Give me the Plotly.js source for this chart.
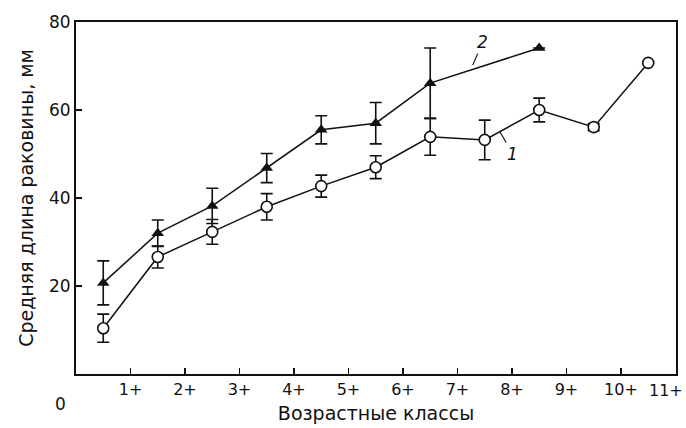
<!DOCTYPE html>
<html><head><meta charset="utf-8">
<script src="https://cdn.plot.ly/plotly-3.0.1.min.js"></script>
<style>html,body{margin:0;padding:0;background:#fff}#chart{width:686px;height:428px}</style>
</head><body><div id="chart"></div>
<script>
// Series 1 (open circles)
const x1 = [0.5, 1.5, 2.5, 3.5, 4.5, 5.5, 6.5, 7.5, 8.5, 9.5, 10.5];
const y1 = [10.4, 26.6, 32.3, 38.0, 42.7, 47.0, 53.9, 53.2, 60.0, 56.1, 70.7];
const e1 = [3.2, 2.5, 2.8, 3.0, 2.5, 2.6, 4.2, 4.5, 2.7, 0.8, 0];
// Series 2 (filled triangles)
const x2 = [0.5, 1.5, 2.5, 3.5, 4.5, 5.5, 6.5, 8.5];
const y2 = [20.7, 32.0, 38.2, 46.8, 55.5, 57.0, 66.1, 74.1];
const e2 = [5.0, 3.0, 4.0, 3.3, 3.2, 4.7, 8.0, 0];
// Axis ticks
const xTickVals = [1, 2, 3, 4, 5, 6, 7, 8, 9, 10, 11];
const xTickText = ["1+", "2+", "3+", "4+", "5+", "6+", "7+", "8+", "9+", "10+", "11+"];
const yTickVals = [20, 40, 60, 80];
const seriesLabels = ["1", "2"];

const fam = "DejaVu Sans, Liberation Sans, Arial, sans-serif";
const font = {family: fam, color: "#111", size: 17};

// the last tick label sits at the page edge, so it is drawn right-aligned as an annotation
const lastIdx = xTickText.length - 1;
const shownTickText = xTickText.map((t, i) => i === lastIdx ? "" : t);

const traces = [
  {x: x2, y: y2, type: "scatter", mode: "lines+markers",
   line: {color: "#111", width: 1.5},
   marker: {symbol: "triangle-up", size: 11, color: "#111"},
   error_y: {type: "data", array: e2, visible: true, color: "#111", thickness: 1.6, width: 6},
   showlegend: false},
  {x: x1, y: y1, type: "scatter", mode: "lines+markers",
   line: {color: "#111", width: 1.5},
   marker: {symbol: "circle", size: 11, color: "#fff", line: {color: "#111", width: 1.6}},
   error_y: {type: "data", array: e1, visible: true, color: "#111", thickness: 1.6, width: 6},
   showlegend: false}
];

const layout = {
  width: 686, height: 428,
  margin: {l: 76, r: 10, t: 22, b: 54},
  paper_bgcolor: "#fff", plot_bgcolor: "#fff",
  font: font,
  xaxis: {
    range: [0, 11.01], tickvals: xTickVals, ticktext: shownTickText,
    ticks: "inside", ticklen: 6, tickwidth: 1.5, tickcolor: "#111",
    showgrid: false, zeroline: false,
    showline: true, linecolor: "#111", linewidth: 2, mirror: true,
    tickfont: {family: fam, size: 16, color: "#111"},
    title: {text: "Возрастные классы", font: {family: fam, size: 19, color: "#111"}, standoff: 8}
  },
  yaxis: {
    range: [0, 80], tickvals: yTickVals,
    ticks: "inside", ticklen: 6, tickwidth: 1.5, tickcolor: "#111",
    showgrid: false, zeroline: false,
    showline: true, linecolor: "#111", linewidth: 2, mirror: true,
    tickfont: {family: fam, size: 17, color: "#111"},
    title: {text: "Средняя длина раковины, мм", font: {family: fam, size: 19, color: "#111"}, standoff: 10}
  },
  annotations: [
    {xref: "paper", yref: "paper", x: 0, y: 0, text: "0", showarrow: false,
     xanchor: "center", yanchor: "top", xshift: -16, yshift: -18, font: {family: fam, size: 17, color: "#111"}},
    {xref: "x", yref: "paper", x: xTickVals[lastIdx], y: 0, text: xTickText[lastIdx], showarrow: false,
     xanchor: "right", yanchor: "top", xshift: 10, yshift: -5, font: {family: fam, size: 16, color: "#111"}},
    {x: 7.28, y: 70.2, text: "<i>" + seriesLabels[1] + "</i>", showarrow: true, arrowhead: 0,
     arrowwidth: 1.2, arrowcolor: "#111", ax: 10, ay: -23, font: {family: fam, size: 17, color: "#111"}},
    {x: 7.78, y: 55.0, text: "<i>" + seriesLabels[0] + "</i>", showarrow: true, arrowhead: 0,
     arrowwidth: 1.2, arrowcolor: "#111", ax: 13, ay: 22, font: {family: fam, size: 17, color: "#111"}}
  ]
};

Plotly.newPlot("chart", traces, layout, {displayModeBar: false, staticPlot: true});
</script></body></html>
